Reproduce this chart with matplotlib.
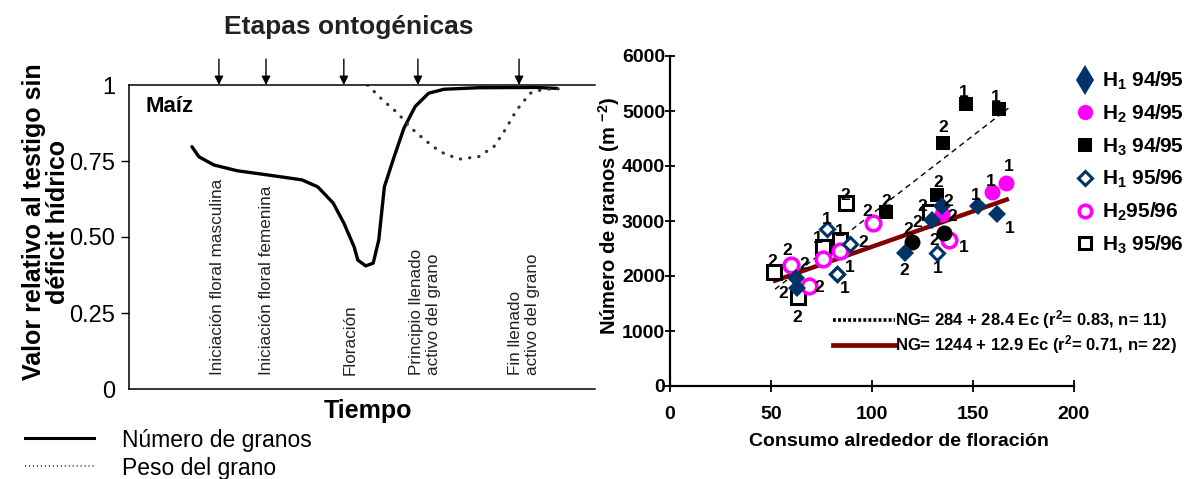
import matplotlib
matplotlib.use("Agg")
from matplotlib import pyplot as plt
from matplotlib.lines import Line2D

plt.rcParams["font.family"] = ["Liberation Sans", "DejaVu Sans"]
plt.rcParams["mathtext.default"] = "regular"

W, H = 1185, 479

# ---- left panel: relative value vs time (maize) ----
grain_t = [13.5, 15.0, 18.2, 23.2, 29.8, 37.1, 40.5, 43.8, 46.1, 48.3, 49.1, 50.8,
           52.4, 53.6, 54.8, 56.9, 59.0, 61.4, 64.3, 67.6, 74.9, 87.3, 91.8]
grain_v = [0.797, 0.764, 0.737, 0.718, 0.704, 0.688, 0.665, 0.612, 0.546, 0.468,
           0.424, 0.405, 0.414, 0.490, 0.665, 0.764, 0.858, 0.929, 0.973, 0.986,
           0.991, 0.992, 0.989]
weight_t = [51.2, 54.4, 57.7, 60.2, 63.5, 66.7, 70.8, 75.0, 78.3, 80.7, 83.2, 86.1,
            88.9, 93.0]
weight_v = [1.0, 0.951, 0.907, 0.863, 0.819, 0.781, 0.756, 0.764, 0.797, 0.852,
            0.918, 0.973, 0.986, 0.988]
stage_t = [19.3, 29.4, 46.1, 62.0, 83.7]
stage_names = ["Iniciación floral masculina", "Iniciación floral femenina",
               "Floración", "Principio llenado\nactivo del grano",
               "Fin llenado\nactivo del grano"]
left_ticks = [0, 0.25, 0.5, 0.75, 1]
left_ticklabels = ["0", "0.25", "0.50", "0.75", "1"]

# ---- right panel: grain number vs water use around flowering ----
h1_9495_x = [62.4, 62.8, 116.2, 129.5, 134.5, 152.6, 161.7]
h1_9495_y = [1970, 1790, 2410, 3018, 3280, 3279, 3121]
h1_9495_tag = ["2", "2", "2", "2", "2", "1", "1"]
h2_9495_x = [134.5, 159.6, 166.3]
h2_9495_y = [3127, 3533, 3697]
h2_9495_tag = ["2", "1", "1"]
h3_9495_x = [106.8, 132.4, 135.2, 146.7, 163.0]
h3_9495_y = [3160, 3475, 4420, 5119, 5040]
h3_9495_tag = ["2", "2", "2", "1", "1"]
h1_9596_x = [77.6, 82.5, 82.5, 89.1, 132.0]
h1_9596_y = [2848, 2036, 2036, 2582, 2424]
h1_9596_tag = ["1", "1", "1", "2", "1"]
h2_9596_x = [59.7, 68.8, 75.9, 84.2, 100.7, 138.3]
h2_9596_y = [2194, 1818, 2303, 2461, 2958, 2655]
h2_9596_tag = ["2", "2", "", "", "2", "1"]
h3_9596_x = [51.5, 63.2, 75.9, 84.2, 87.0, 128.7]
h3_9596_y = [2079, 1624, 2533, 2654, 3321, 3170]
h3_9596_tag = ["2", "2", "1", "1", "2", "2"]
extra_x = [120.0, 135.8]
extra_y = [2624, 2776]
extra_tag = ["2", "2"]
fit_h3_x = [52.0, 167.5]
fit_h3_y = [1760, 5050]
fit_all_x = [52.0, 166.7]
fit_all_y = [1915, 3390]
eq_h3 = "NG= 284 + 28.4 Ec (r$^2$= 0.83, n= 11)"
eq_all = "NG= 1244 + 12.9 Ec (r$^2$= 0.71, n= 22)"

# label offsets (pixels) for the 1/2 tags
off_h1_9495 = [(8, 13), (-14, -6), (0, -17), (-14, -2), (7, 4), (-3, 10), (13, -14)]
off_h2_9495 = [(11, -2), (-2, 10), (3, 16)]
off_h3_9495 = [(1, 11), (1, 12), (0, 15), (-3, 12), (-4, 11)]
off_h1_9596 = [(0, 10), (13, 7), (8, -14), (13, 1), (1, -16)]
off_h2_9596 = [(-3, 15), (10, -1), (0, 0), (0, 0), (-6, 12), (14, -8)]
off_h3_9596 = [(-2, 10), (0, -21), (-6, 8), (0, 9), (0, 8), (-8, 5)]
off_extra = [(-4, 12), (-10, -7)]

NAVY = "#003366"
MAGENTA = "#ff00ff"
MAROON = "#800000"


def fx(px):
    return px / W


def fy(py):
    return 1 - py / H


fig = plt.figure(figsize=(W / 100, H / 100), dpi=100)

# ================= left panel =================
axL = fig.add_axes([fx(129), fy(389), (595 - 129) / W, (389 - 85) / H])
axL.set_xlim(0, 100)
axL.set_ylim(0, 1)
axL.spines["right"].set_visible(False)
for s in ["left", "bottom", "top"]:
    axL.spines[s].set_linewidth(1.1)
axL.set_xticks([])
axL.set_yticks(left_ticks)
axL.set_yticklabels(left_ticklabels, fontsize=17)
axL.tick_params(axis="y", length=6, width=1, pad=4)
for i in (0, -1):
    axL.yaxis.get_major_ticks()[i].tick1line.set_visible(False)

axL.plot(grain_t, grain_v, color="black", lw=2.4, solid_capstyle="round",
         solid_joinstyle="round")
axL.plot(weight_t, weight_v, color="#333333", lw=2.3, linestyle=(0, (0.1, 2.8)),
         dash_capstyle="round")

for t in stage_t:
    axL.annotate("", xy=(t, 1.0), xytext=(t, 1.085),
                 arrowprops=dict(arrowstyle="-|>", color="black", lw=1.0,
                                 mutation_scale=13, shrinkA=0, shrinkB=0),
                 annotation_clip=False)

stage_label_x = [19.0, 29.4, 47.5, 63.5, 84.8]
for xl, name in zip(stage_label_x, stage_names):
    axL.text(xl, 0.046, name, rotation=90, ha="center", va="bottom",
             multialignment="left", fontsize=12.3, color="#222222")

axL.text(0.035, 0.93, "Maíz", transform=axL.transAxes, fontsize=16,
         fontweight="bold", ha="left", va="center")

fig.text(fx(349), fy(27), "Etapas ontogénicas", fontsize=19, fontweight="bold",
         ha="center", va="center", color="#222222")
fig.text(fx(368), fy(411), "Tiempo", fontsize=18, fontweight="bold",
         ha="center", va="center")
fig.text(fx(46), fy(222), "Valor relativo al testigo sin\ndéficit hídrico",
         rotation=90, fontsize=18, fontweight="bold", ha="center", va="center",
         multialignment="center", linespacing=1.05)

fig.add_artist(Line2D([fx(25), fx(94)], [fy(438), fy(438)], color="black", lw=2.2))
fig.add_artist(Line2D([fx(25), fx(94)], [fy(466), fy(466)], color="#444444", lw=1.3,
                      linestyle=(0, (0.6, 1.6))))
fig.text(fx(122), fy(440), "Número de granos", fontsize=16.5, ha="left", va="center")
fig.text(fx(122), fy(468), "Peso del grano", fontsize=16.5, ha="left", va="center")

# ================= right panel =================
axR = fig.add_axes([fx(670), fy(386), (1074 - 670) / W, (386 - 56) / H])
axR.set_xlim(0, 200)
axR.set_ylim(0, 6000)
axR.spines["right"].set_visible(False)
axR.spines["top"].set_visible(False)
axR.spines["left"].set_linewidth(1.6)
axR.spines["bottom"].set_linewidth(1.6)
axR.set_xticks([0, 50, 100, 150, 200])
axR.set_yticks([0, 1000, 2000, 3000, 4000, 5000, 6000])
axR.tick_params(axis="x", direction="inout", length=9, width=1.3, labelsize=14, pad=10)
axR.tick_params(axis="y", direction="inout", length=7, width=1.3, labelsize=14, pad=0)
for lab in axR.get_xticklabels() + axR.get_yticklabels():
    lab.set_fontweight("bold")

axR.plot(fit_h3_x, fit_h3_y, color="black", lw=1.0, linestyle=(0, (4, 3)), zorder=2)
axR.plot(fit_all_x, fit_all_y, color=MAROON, lw=3.2, zorder=2)

series = [
    (h3_9596_x, h3_9596_y, h3_9596_tag, off_h3_9596,
     dict(marker="s", ms=9.5, mfc="white", mec="black", mew=2.2)),
    (h2_9596_x, h2_9596_y, h2_9596_tag, off_h2_9596,
     dict(marker="o", ms=10.5, mfc="white", mec=MAGENTA, mew=2.6)),
    (h1_9596_x, h1_9596_y, h1_9596_tag, off_h1_9596,
     dict(marker="D", ms=7.5, mfc="white", mec=NAVY, mew=2.2)),
    (extra_x, extra_y, extra_tag, off_extra,
     dict(marker="o", ms=11.5, mfc="black", mec="black", mew=0)),
    (h3_9495_x, h3_9495_y, h3_9495_tag, off_h3_9495,
     dict(marker="s", ms=10.5, mfc="black", mec="black", mew=0)),
    (h2_9495_x, h2_9495_y, h2_9495_tag, off_h2_9495,
     dict(marker="o", ms=11.5, mfc=MAGENTA, mec=MAGENTA, mew=0)),
    (h1_9495_x, h1_9495_y, h1_9495_tag, off_h1_9495,
     dict(marker="D", ms=9, mfc=NAVY, mec=NAVY, mew=0)),
]
for xs, ys, tags, offs, st in series:
    axR.plot(xs, ys, linestyle="none", zorder=3, clip_on=False, **st)
    for x, y, tag, (dx, dy) in zip(xs, ys, tags, offs):
        if tag:
            axR.annotate(tag, (x, y), xytext=(dx, dy), textcoords="offset pixels",
                         ha="center", va="center", fontsize=12.5, fontweight="bold",
                         zorder=4)

fig.text(fx(899), fy(442), "Consumo alrededor de floración", fontsize=14,
         fontweight="bold", ha="center", va="center")
fig.text(fx(609), fy(216), "Número de granos (m $^{-2}$)", rotation=90, fontsize=14.5,
         fontweight="bold", ha="center", va="center")

# regression legend
fig.add_artist(Line2D([fx(833), fx(895)], [fy(320), fy(320)], color="black", lw=2.6,
                      linestyle=(0, (0.8, 0.6))))
fig.add_artist(Line2D([fx(833), fx(895)], [fy(345), fy(345)], color=MAROON, lw=3.4))
fig.text(fx(895), fy(320), eq_h3, fontsize=12, fontweight="bold", ha="left",
         va="center")
fig.text(fx(895), fy(345), eq_all, fontsize=12, fontweight="bold", ha="left",
         va="center")

# series legend
handles = [
    Line2D([], [], linestyle="none", marker="d", ms=15, mfc=NAVY, mec=NAVY, mew=0),
    Line2D([], [], linestyle="none", marker="o", ms=11, mfc=MAGENTA, mec=MAGENTA, mew=0),
    Line2D([], [], linestyle="none", marker="s", ms=10, mfc="black", mec="black", mew=0),
    Line2D([], [], linestyle="none", marker="D", ms=7, mfc="white", mec=NAVY, mew=2.2),
    Line2D([], [], linestyle="none", marker="o", ms=9, mfc="white", mec=MAGENTA, mew=2.6),
    Line2D([], [], linestyle="none", marker="s", ms=9, mfc="white", mec="black", mew=2.2),
]
labels = ["H$_1$ 94/95", "H$_2$ 94/95", "H$_3$ 94/95", "H$_1$ 95/96", "H$_2$95/96",
          "H$_3$ 95/96"]
fig.legend(handles, labels, loc="upper left", bbox_to_anchor=(fx(1075), fy(70)),
           frameon=False, prop=dict(size=15, weight="bold"), handlelength=1.0,
           handletextpad=0.3, labelspacing=0.5, borderpad=0, borderaxespad=0)

fig.savefig("out.png", dpi=100)
